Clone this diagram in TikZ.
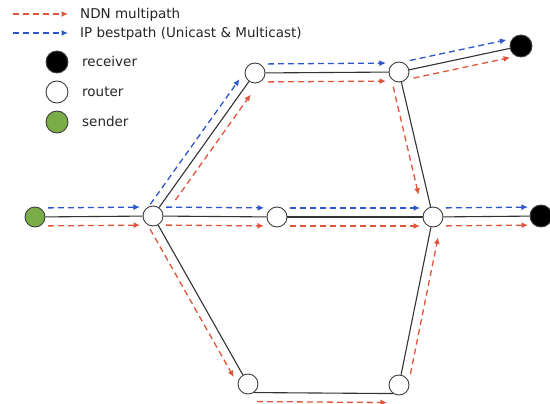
\documentclass[tikz,border=0pt]{standalone}
\usepackage{fontspec}
\setmainfont{DejaVu Sans}
\usetikzlibrary{calc,arrows.meta}
\tikzset{>={Latex[length=6.5pt,width=6pt]}}
\definecolor{ndnred}{RGB}{222,86,58}
\definecolor{ipblue}{RGB}{45,85,205}
\definecolor{sendgreen}{RGB}{122,172,72}
\colorlet{linkgray}{black!80}
\tikzstyle{link}=[linkgray,line width=1.1pt]
\tikzstyle{ndn}=[->,ndnred,line width=1.3pt,dash pattern=on 6pt off 4pt,shorten <=13pt,shorten >=13pt]
\tikzstyle{ip}=[ndn,ipblue]
\tikzstyle{router}=[circle,draw=black!75,line width=0.9pt,fill=white,minimum size=20pt,inner sep=0pt]
\tikzstyle{receiver}=[router,fill=black,minimum size=22pt]
\tikzstyle{sender}=[router,fill=sendgreen]
\tikzstyle{legend}=[anchor=base west,inner sep=0pt,text=black!85,font=\fontsize{13.5}{16}\selectfont]
\newcommand\flow[4][ndn]{% style, from, to, side (90 = left of travel)
  \draw[#1] ($(#2)!9pt!#4:(#3)$) -- ($(#3)!9pt!#4+180:(#2)$);
}

\begin{document}
\begin{tikzpicture}[x=1pt,y=-1pt]
  \useasboundingbox (0,0) rectangle (550,404);

  % LEGEND
  \coordinate (NA) at (13,14);
  \coordinate (NB) at (68,14);
  \coordinate (IA) at (13,33);
  \coordinate (IB) at (68,33);
  \draw[ndn,shorten <=0pt,shorten >=0pt] (NA) -- (NB);
  \draw[ip,shorten <=0pt,shorten >=0pt] (IA) -- (IB);
  \node[legend] (tNDN) at (80,19) {NDN multipath};
  \node[legend] (tIP) at (80,38) {IP bestpath (Unicast \& Multicast)};
  \node[receiver] (LR) at (57,62) {};
  \node[router,minimum size=22pt] (LT) at (57,92) {};
  \node[sender,minimum size=22pt] (LS) at (57,122) {};
  \node[legend] (tR) at (82,67) {receiver};
  \node[legend] (tT) at (82,97) {router};
  \node[legend] (tS) at (82,127) {sender};

  % NODES
  \node[sender] (S) at (35,217) {};
  \node[router] (R1) at (153,216) {}; % hub
  \node[router] (R2) at (255,73) {};  % top left
  \node[router] (R3) at (399,72) {};  % top right
  \node[router] (R4) at (277,217) {}; % middle
  \node[router] (R5) at (433,217) {}; % right
  \node[router] (R6) at (248,384) {}; % bottom left
  \node[router] (R7) at (399,385) {}; % bottom right
  \node[receiver] (RT) at (521,46) {};
  \node[receiver] (RR) at (541,216) {};

  % LINKS
  \draw[link] (S) -- (R1);
  \draw[link] (R1) -- (R2);
  \draw[link] (R2) -- (R3);
  \draw[link] (R3) -- (RT);
  \draw[link] (R3) -- (R5);
  \draw[link] (R1) -- (R4);
  \draw[link] (R4) -- (R5);
  \draw[link] (R5) -- (RR);
  \draw[link] (R1) -- (R6);
  \draw[link] (R6.-55) -- (R7.-125);
  \draw[link] (R7) -- (R5);

  % IP BESTPATH
  \flow[ip]{S}{R1}{90}
  \flow[ip,shorten <=8pt,shorten >=14pt]{R1}{R2}{90}
  \flow[ip]{R2}{R3}{90}
  \flow[ip]{R3}{RT}{90}
  \flow[ip]{R1}{R4}{90}
  \flow[ip]{R4}{R5}{90}
  \flow[ip]{R5}{RR}{90}

  % NDN MULTIPATH
  \flow{S}{R1}{-90}
  \flow[ndn,shorten <=26pt,shorten >=20pt]{R1}{R2}{-90}
  \flow{R2}{R3}{-90}
  \flow{R3}{RT}{-90}
  \flow{R1}{R4}{-90}
  \flow{R4}{R5}{-90}
  \flow{R5}{RR}{-90}
  \flow[ndn,shorten >=25pt]{R3}{R5}{-90}
  \flow[ndn,shorten <=10pt]{R1}{R6}{-90}
  \flow[ndn,shorten <=3pt,shorten >=6pt]{R6.-55}{R7.-125}{-90}
  \flow[ndn,shorten >=19pt]{R7}{R5}{-90}
\end{tikzpicture}
\end{document}
